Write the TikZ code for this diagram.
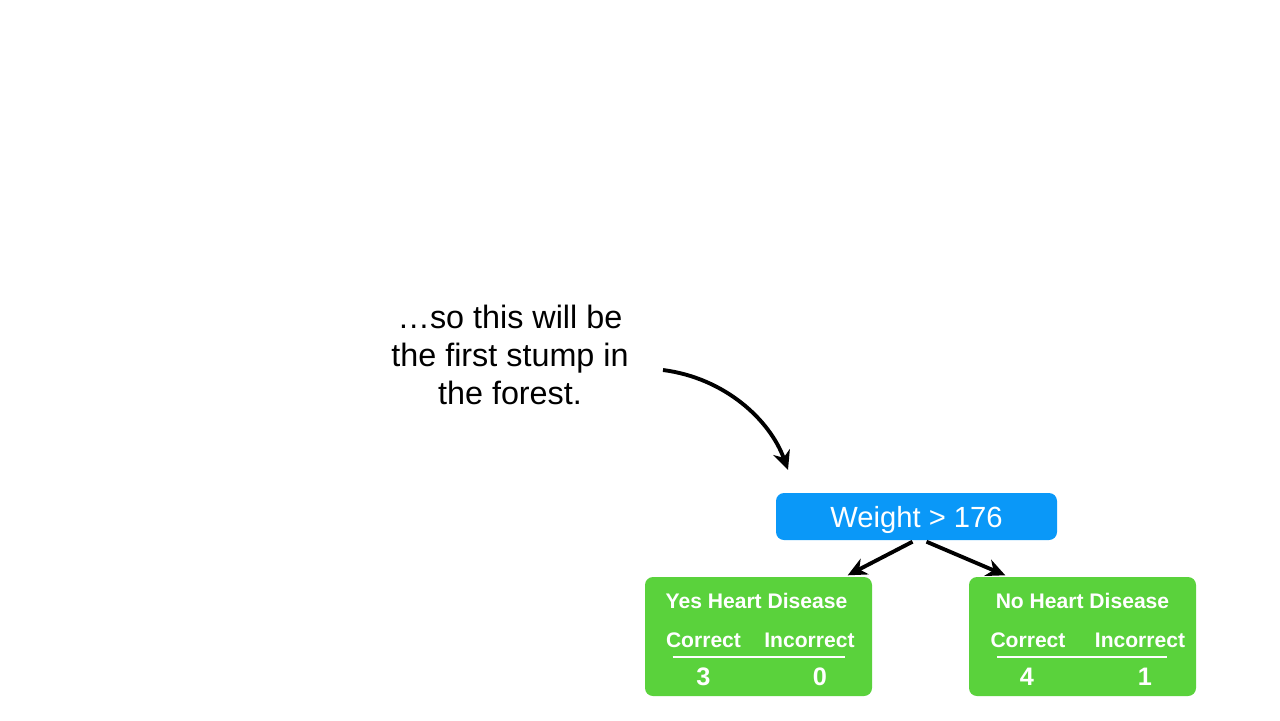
\documentclass[tikz,border=0pt]{standalone}
\usepackage{xcolor}
\usepackage{fontspec}
\setmainfont{Liberation Sans}
\usetikzlibrary{calc}
\usetikzlibrary{positioning,arrows.meta}
\definecolor{rootblue}{RGB}{10,152,248}
\definecolor{leafgreen}{RGB}{90,210,60}
\tikzset{rootbox/.style={fill=rootblue, rounded corners=0.8mm, text=white, text depth=0pt,
  minimum width=2.81cm, minimum height=0.47cm, font=\fontsize{8.3}{9}\selectfont}}
\tikzset{leafbox/.style={fill=leafgreen, rounded corners=0.8mm,
  minimum width=2.27cm, minimum height=1.19cm}}
\tikzset{leaftext/.style={text=white, inner sep=0pt, font=\bfseries\fontsize{6}{7}\selectfont}}
\tikzset{leafnum/.style={text=white, inner sep=0pt, font=\bfseries\fontsize{7.2}{8}\selectfont}}
\tikzset{pointer/.style={line width=1.1pt, -{Stealth[length=1.9mm,width=1.75mm,inset=0.6mm]}}}

\begin{document}
\begin{tikzpicture}[x=0.1mm,y=-0.1mm]
\useasboundingbox (0,0) rectangle (1280,720);
\node[align=center, font=\fontsize{9.2}{10.8}\selectfont] (note) at (510,355)
{…so this will be\\the first stump in\\the forest.};
\coordinate (tip) at (788,470);
\draw[pointer] ($(note.east)+(22,15)$)
.. controls (725,378) and (770,420) .. (tip);
\node[rootbox] (root) at (916.5,516.5) {Weight > 176};
\node[leafbox] (yes) at (758.5,636.5) {};
\node[leafbox] (no) at (1082.5,636.5) {};
% left leaf
\node[leaftext] (yestitle) at ($(yes)+(-2,-36)$) {Yes Heart Disease};
\node[leaftext] (yescor) at ($(yes)+(-55,3.5)$) {Correct};
\node[leaftext] (yesinc) at ($(yes)+(51,3.5)$) {Incorrect};
\draw[white,line width=0.6pt] ($(yes)+(-86,20.5)$) -- ($(yes)+(86,20.5)$);
\node[leafnum] (yesc) at ($(yes)+(-55,40)$) {3};
\node[leafnum] (yesi) at ($(yes)+(61.5,40)$) {0};
% right leaf
\node[leaftext] (notitle) at ($(no)+(0,-36)$) {No Heart Disease};
\node[leaftext] (nocor) at ($(no)+(-54.5,3.5)$) {Correct};
\node[leaftext] (noinc) at ($(no)+(57.5,3.5)$) {Incorrect};
\draw[white,line width=0.6pt] ($(no)+(-85.5,20.5)$) -- ($(no)+(84.5,20.5)$);
\node[leafnum] (noc) at ($(no)+(-55.5,40)$) {4};
\node[leafnum] (noi) at ($(no)+(62.5,40)$) {1};
% branches
\draw[pointer] ($(root.south)+(-4,1)$) -- ($(yes.north east)+(-25,-1)$);
\draw[pointer] ($(root.south)+(10,1)$) -- ($(no.north west)+(37,-1)$);
\end{tikzpicture}
\end{document}
